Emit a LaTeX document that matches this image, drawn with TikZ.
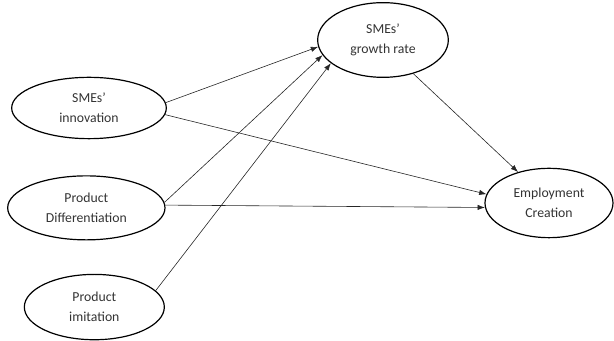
\documentclass[tikz,border=0pt]{standalone}
\usepackage{fontspec}
\setmainfont{Carlito}
\usetikzlibrary{positioning,shapes.geometric,arrows.meta}
\tikzstyle{Constructo}=[ellipse, draw=black, line width=0.9pt, inner sep=0pt, align=center, text=black!80, font=\fontsize{10.3}{15}\selectfont]
\tikzstyle{Flecha}=[-{Latex[length=5.5pt,width=4pt]}, draw=black!85, line width=0.45pt]

\begin{document}
\begin{tikzpicture}[x=0.75pt,y=-0.75pt]
			\useasboundingbox (0,0) rectangle (614,341);
			%Nodos
			\node[Constructo, minimum width=116pt, minimum height=46pt]	(innovation)		at (89,108)		{SMEs’\\innovation};
			\node[Constructo, minimum width=118pt, minimum height=48pt]	(differentiation)	[below=27pt of innovation, xshift=-2pt]	{Product\\Differentiation};
			\node[Constructo, minimum width=105pt, minimum height=49pt]	(imitation)		[below=25pt of differentiation, xshift=6pt]	{Product\\imitation};

			\node[Constructo, minimum width=98pt, minimum height=56pt]	(growth)		at (383,40)		{SMEs’\\growth rate};
			\node[Constructo, minimum width=96pt, minimum height=52pt]	(employment)		at (549,203)	{Employment\\Creation};

			%Lineas
			\draw[Flecha] (innovation.4) -- (growth.186);
			\draw[Flecha] (innovation.355) -- (employment.172);
			\draw[Flecha] (differentiation.4) -- (growth.194);
			\draw[Flecha] (differentiation.2) -- (employment.184);
			\draw[Flecha] (imitation.15) -- (growth.204);
			\draw[Flecha] (growth.312) -- (employment.135);

\end{tikzpicture}
\end{document}
